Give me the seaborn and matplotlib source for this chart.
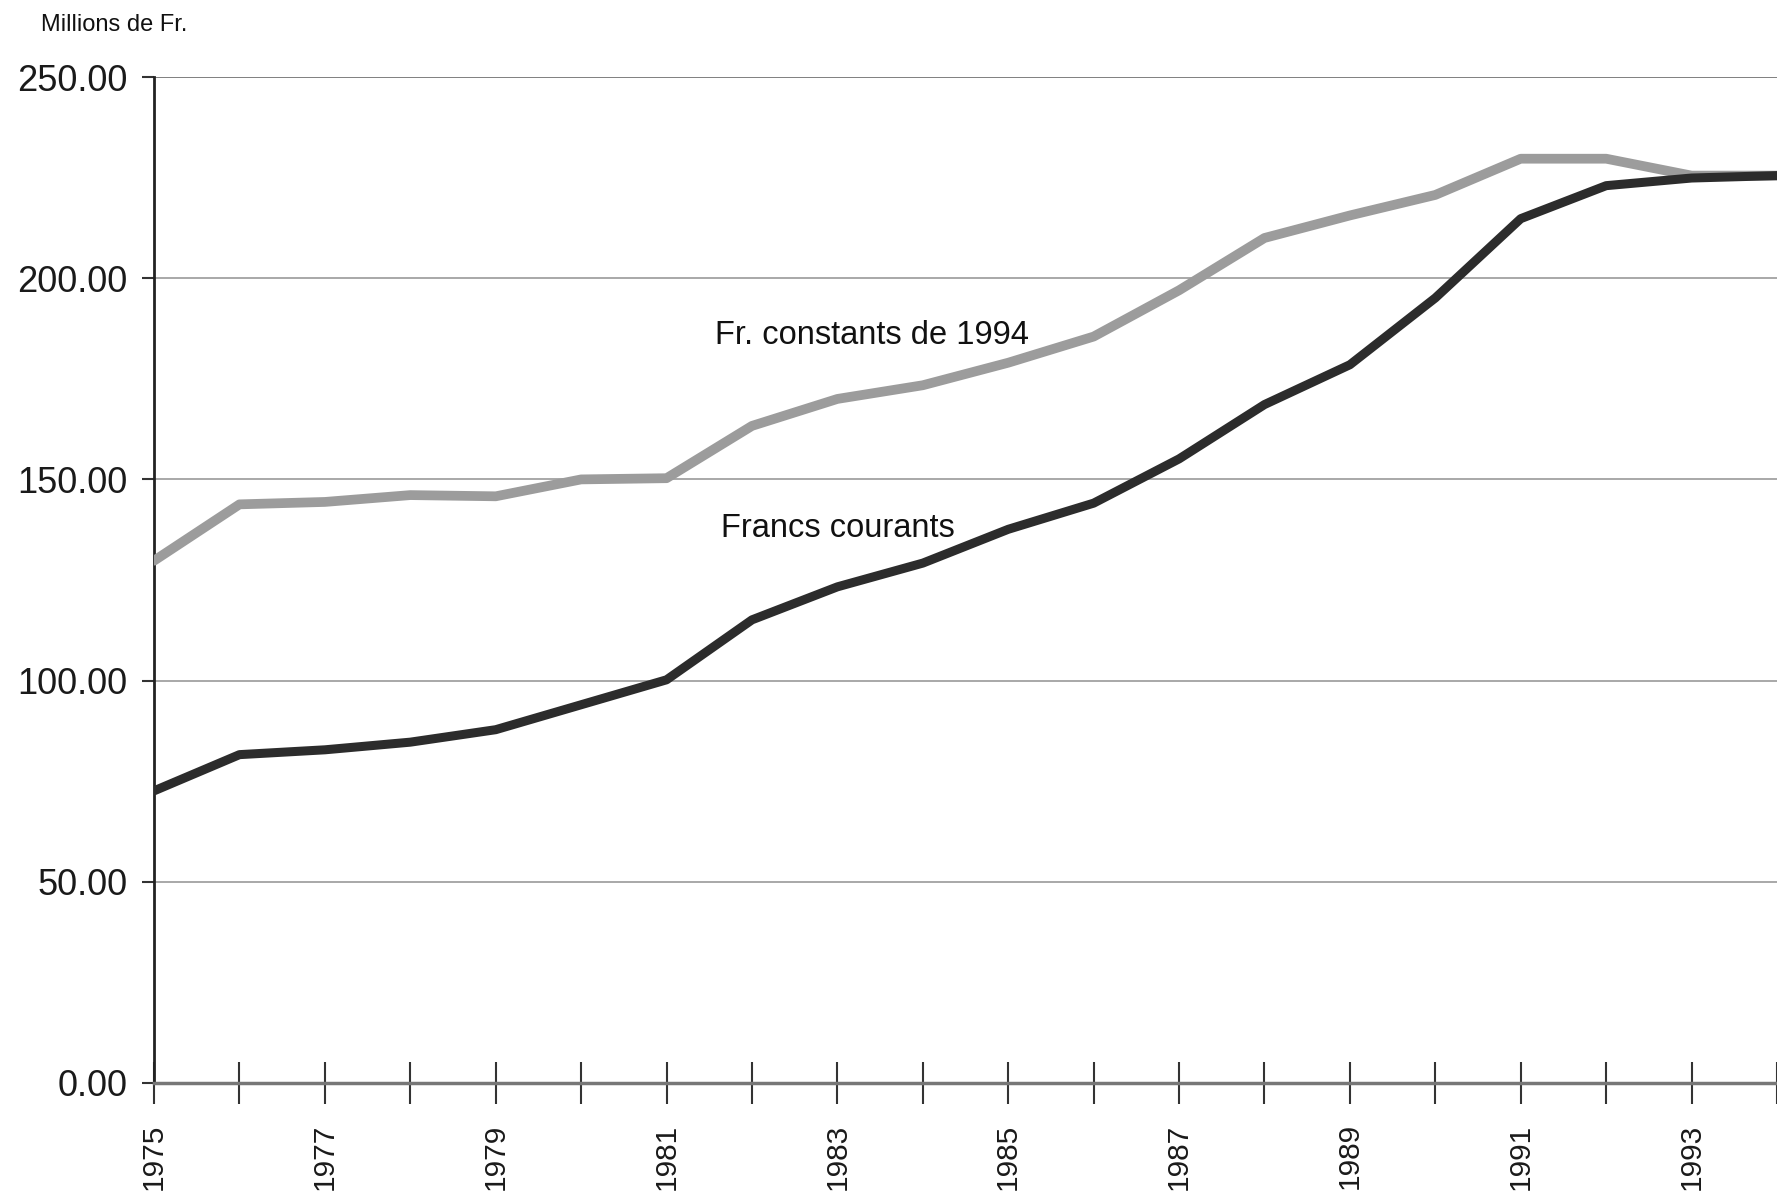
from matplotlib import pyplot as plt
import pandas as pd
import seaborn as sns

# values (millions de Fr.)
years = list(range(1975, 1995))
francs_courants = [72.6, 81.6, 82.8, 84.7, 87.8, 94.0, 100.2, 115.1, 123.3, 129.2,
                   137.6, 144.1, 155.1, 168.6, 178.5, 195.1, 214.8, 223.0, 224.9, 225.5]
francs_constants = [129.8, 143.8, 144.4, 146.1, 145.8, 150.0, 150.3, 163.3, 170.0, 173.4,
                    179.0, 185.5, 197.0, 210.0, 215.6, 220.7, 229.7, 229.7, 225.5, 225.5]
y_ticks = [0, 50, 100, 150, 200, 250]
year_labels = [str(y) if (y - 1975) % 2 == 0 else '' for y in years]

df = pd.DataFrame({'Année': years,
                   'Francs courants': francs_courants,
                   'Fr. constants de 1994': francs_constants})

sns.set_style('white')
plt.rcParams['font.family'] = ['Liberation Sans', 'DejaVu Sans']

fig = plt.figure(figsize=(17.77, 11.96), dpi=100)
ax = fig.add_axes([0.0867, 0.0945, 0.9133, 0.8411])

# horizontal grid lines
for v in y_ticks[1:]:
    ax.axhline(v, color='#9a9a9a' if v < 250 else '#6a6a6a', lw=1.2, zorder=0)

sns.lineplot(data=df, x='Année', y='Fr. constants de 1994', ax=ax,
             color='#9c9c9c', lw=7, zorder=3)
sns.lineplot(data=df, x='Année', y='Francs courants', ax=ax,
             color='#2c2c2c', lw=6.5, zorder=4)

ax.set_xlim(1975, 1993.75)
ax.set_ylim(0, 250)
ax.set_xlabel('')
ax.set_ylabel('')

ax.set_yticks(y_ticks)
ax.set_yticklabels([f'{v:.2f}' for v in y_ticks], fontsize=26, color='#1a1a1a')
ax.set_xticks(years)
ax.set_xticklabels(year_labels, rotation=90, fontsize=21.5, color='#1a1a1a')
ax.tick_params(axis='y', direction='out', length=9, width=1.5, color='#333333', pad=10, left=True)
ax.tick_params(axis='x', direction='inout', length=30, width=1.5, color='#333333', pad=14, bottom=True)

for s in ['top', 'right']:
    ax.spines[s].set_visible(False)
ax.spines['left'].set_color('#222222')
ax.spines['left'].set_linewidth(2)
ax.spines['bottom'].set_color('#777777')
ax.spines['bottom'].set_linewidth(2.5)

ax.text(1983.4, 185.8, 'Fr. constants de 1994', fontsize=23.5, ha='center', va='center', color='#111111')
ax.text(1983.0, 137.9, 'Francs courants', fontsize=23.5, ha='center', va='center', color='#111111')

fig.text(0.023, 0.979, 'Millions de Fr.', fontsize=17, ha='left', va='center', color='#111111')

fig.savefig('out.png', dpi=100)
